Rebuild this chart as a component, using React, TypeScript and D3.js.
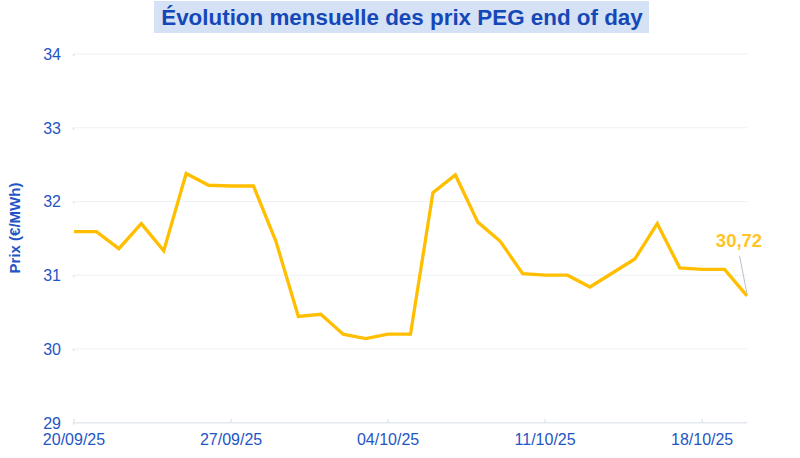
import React from "react";
import * as d3 from "d3";

const dates: string[] = [
  "2025-09-20","2025-09-21","2025-09-22","2025-09-23","2025-09-24","2025-09-25","2025-09-26",
  "2025-09-27","2025-09-28","2025-09-29","2025-09-30","2025-10-01","2025-10-02","2025-10-03",
  "2025-10-04","2025-10-05","2025-10-06","2025-10-07","2025-10-08","2025-10-09","2025-10-10",
  "2025-10-11","2025-10-12","2025-10-13","2025-10-14","2025-10-15","2025-10-16","2025-10-17",
  "2025-10-18","2025-10-19","2025-10-20",
];
const prices: number[] = [
  31.59, 31.59, 31.36, 31.70, 31.33, 32.38, 32.22,
  32.21, 32.21, 31.46, 30.44, 30.47, 30.20, 30.14,
  30.20, 30.20, 32.12, 32.36, 31.72, 31.46, 31.02,
  31.00, 31.00, 30.84, 31.03, 31.22, 31.70, 31.10,
  31.08, 31.08, 30.72,
];
const yTicks: number[] = [29, 30, 31, 32, 33, 34];
const xTickDates: string[] = ["2025-09-20", "2025-09-27", "2025-10-04", "2025-10-11", "2025-10-18"];
const title = "Évolution mensuelle des prix PEG end of day";
const yTitle = "Prix (€/MWh)";

const W = 800, H = 458;
const M = { left: 74, right: 53, top: 54, bottom: 35 };
const FONT = "'Liberation Sans', Arial, Helvetica, sans-serif";
const BLUE = "#1f55c4";
const GOLD = "#ffbf00";

export default function App() {
  const parse = d3.utcParse("%Y-%m-%d");
  const data = dates.map((d, i) => ({ date: parse(d)!, value: prices[i] }));
  const x = d3.scaleUtc()
    .domain([data[0].date, data[data.length - 1].date])
    .range([M.left, W - M.right]);
  const y = d3.scaleLinear().domain([29, 34]).range([H - M.bottom - 0.3, M.top]);
  const line = d3.line<{ date: Date; value: number }>()
    .x(d => x(d.date))
    .y(d => y(d.value));
  const fmt = d3.utcFormat("%d/%m/%y");
  const last = data[data.length - 1];
  const lx = x(last.date), ly = y(last.value);

  return (
    <svg width={W} height={H} style={{ position: "absolute", left: 0, top: 0, background: "#fff" }}>
      <rect x={154} y={1} width={495} height={32} fill="#d5e1f4" />
      <text x={402} y={25} textAnchor="middle" fontFamily={FONT} fontWeight="bold" fontSize={22.4} fill="#1448b8">{title}</text>

      {yTicks.map(t => (
        <g key={t}>
          <line x1={M.left} x2={W - M.right} y1={y(t)} y2={y(t)} stroke={t === 29 ? "#e3e8f0" : "#eef1f6"} strokeWidth={t === 29 ? 1.5 : 1} />
          <line x1={M.left - 1} x2={M.left} y1={y(t)} y2={y(t) + 2} stroke="#d0d6e0" />
          <text x={61} y={y(t) + 6} textAnchor="end" fontFamily={FONT} fontSize={16} fill={BLUE}>{t}</text>
        </g>
      ))}
      {xTickDates.map(s => {
        const d = parse(s)!;
        return (
          <g key={s}>
            <line x1={x(d)} x2={x(d)} y1={y(29) - 4} y2={y(29)} stroke="#d8dde6" />
            <text x={x(d)} y={445} textAnchor="middle" fontFamily={FONT} fontSize={16} fill={BLUE}>{fmt(d)}</text>
          </g>
        );
      })}

      <text transform={`translate(20,228) rotate(-90)`} textAnchor="middle" fontFamily={FONT} fontWeight="bold" fontSize={15} fill={BLUE}>{yTitle}</text>

      <path d={line(data) || ""} fill="none" stroke={GOLD} strokeWidth={3.3} strokeLinejoin="miter" />

      <line x1={lx - 7.5} y1={ly - 40} x2={lx} y2={ly - 2} stroke="#b8bfcc" strokeWidth={1} />
      <text x={739} y={247} textAnchor="middle" fontFamily={FONT} fontWeight="bold" fontSize={18.5} fill="#ffc526">{last.value.toFixed(2).replace(".", ",")}</text>
    </svg>
  );
}
